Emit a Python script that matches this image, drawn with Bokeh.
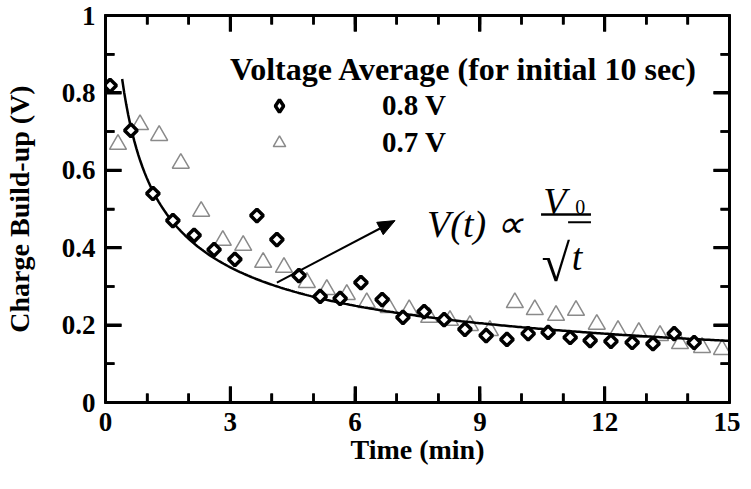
import numpy as np
from bokeh.plotting import figure
from bokeh.models import (FixedTicker, Range1d, Label, Legend, LegendItem, ColumnDataSource,
                          LinearAxis, CustomJSTickFormatter)
from bokeh.embed import file_html
from bokeh.resources import INLINE

# ---------------- data ----------------
t_08 = [0.11, 0.61, 1.14, 1.62, 2.13, 2.61, 3.11, 3.64, 4.12, 4.65, 5.16, 5.64, 6.14, 6.65,
        7.15, 7.66, 8.14, 8.64, 9.15, 9.65, 10.16, 10.64, 11.17, 11.65, 12.15, 12.66, 13.16,
        13.67, 14.15]
v_08 = [0.819, 0.703, 0.540, 0.470, 0.432, 0.395, 0.370, 0.483, 0.421, 0.328, 0.274, 0.269,
        0.310, 0.266, 0.220, 0.235, 0.214, 0.189, 0.173, 0.163, 0.178, 0.181, 0.168, 0.160,
        0.158, 0.155, 0.152, 0.178, 0.155]

t_07 = [0.30, 0.83, 1.29, 1.81, 2.30, 2.82, 3.31, 3.79, 4.29, 4.84, 5.32, 5.80, 6.28, 6.81,
        7.30, 7.78, 8.28, 8.76, 9.24, 9.84, 10.32, 10.83, 11.31, 11.81, 12.32, 12.82, 13.33,
        13.81, 14.34, 14.82]
v_07 = [0.667, 0.718, 0.690, 0.618, 0.494, 0.419, 0.406, 0.362, 0.349, 0.310, 0.292, 0.279,
        0.258, 0.245, 0.240, 0.220, 0.212, 0.199, 0.186, 0.258, 0.240, 0.225, 0.238, 0.202,
        0.186, 0.181, 0.173, 0.152, 0.142, 0.137]

# fitted curve V(t) = a / sqrt(t + c)
fit_a = 0.62
fit_c = 0.15
fit_t = np.linspace(0.40, 15.0, 300)
fit_v = fit_a / np.sqrt(fit_t + fit_c)

x_min, x_max = 0.0, 15.0
y_min, y_max = 0.0, 1.0
xtick_major = [0, 3, 6, 9, 12, 15]
xtick_minor = list(range(0, 16))
ytick_major = [0.0, 0.2, 0.4, 0.6, 0.8, 1.0]
ytick_labels = ["0", "0.2", "0.4", "0.6", "0.8", "1"]
ytick_minor = [0.1, 0.3, 0.5, 0.7, 0.9]

x_label = "Time (min)"
y_label = "Charge Build-up (V)"
legend_title = "Voltage Average (for initial 10 sec)"
series_labels = ["0.8 V", "0.7 V"]

arrow_start = (4.12, 0.31)
arrow_end = (6.96, 0.47)

FONT = "Liberation Serif"
FRAME_W, FRAME_H = 624, 387

# ---------------- figure ----------------
p = figure(frame_width=FRAME_W, frame_height=FRAME_H,
           x_range=Range1d(x_min, x_max), y_range=Range1d(y_min, y_max),
           output_backend="svg", toolbar_location=None,
           min_border_left=100, min_border_right=11, min_border_top=15, min_border_bottom=71,
           x_axis_label=x_label, y_axis_label=y_label)
p.grid.visible = False
p.outline_line_color = "black"
p.outline_line_width = 3

# data units per screen pixel
px_x = (x_max - x_min) / FRAME_W
px_y = (y_max - y_min) / FRAME_H

xticker = FixedTicker(ticks=[float(v) for v in xtick_major],
                      minor_ticks=[float(v) for v in xtick_minor])
yticker = FixedTicker(ticks=ytick_major, minor_ticks=ytick_minor)


def style_axis(ax):
    ax.axis_line_color = "black"
    ax.axis_line_width = 3
    ax.major_tick_in = 16
    ax.major_tick_out = 1
    ax.minor_tick_in = 9
    ax.minor_tick_out = 1
    ax.major_tick_line_color = "black"
    ax.minor_tick_line_color = "black"
    ax.major_tick_line_width = 3
    ax.minor_tick_line_width = 2.5
    ax.major_label_text_font = FONT
    ax.major_label_text_font_style = "bold"
    ax.major_label_text_font_size = "27px"
    ax.major_label_text_color = "black"
    ax.axis_label_text_font = FONT
    ax.axis_label_text_font_style = "bold"
    ax.axis_label_text_font_size = "28px"
    ax.axis_label_text_color = "black"


xa = p.xaxis[0]
xa.ticker = xticker
style_axis(xa)
xa.major_label_standoff = 9
xa.axis_label_standoff = 0

ya = p.yaxis[0]
ya.ticker = yticker
style_axis(ya)
ya.major_label_overrides = dict(zip(ytick_major, ytick_labels))
ya.major_label_standoff = 9
ya.axis_label_standoff = 24

for loc, tk in (("above", xticker), ("right", yticker)):
    ax = LinearAxis(ticker=tk, formatter=CustomJSTickFormatter(code="return ''"))
    style_axis(ax)
    ax.major_label_text_font_size = "0px"
    ax.major_label_standoff = 0
    p.add_layout(ax, loc)


# inward tick marks also drawn as glyph segments from the frame edge inwards
def tick_marks(ticks, vertical, length, width):
    tv = np.asarray(ticks, dtype=float)
    n = len(tv)
    lo = np.full(n, y_min if vertical else x_min)
    hi = np.full(n, y_max if vertical else x_max)
    d = length * (px_y if vertical else px_x)
    a0 = np.concatenate([tv, tv])
    b0 = np.concatenate([lo, hi])
    b1 = np.concatenate([lo + d, hi - d])
    if vertical:
        p.segment(a0, b0, a0, b1, line_color="black", line_width=width)
    else:
        p.segment(b0, a0, b1, a0, line_color="black", line_width=width)


tick_marks(xtick_minor, True, 9, 2.5)
tick_marks(xtick_major, True, 16, 3)
tick_marks(ytick_minor, False, 9, 2.5)
tick_marks(ytick_major, False, 16, 3)

# ---------------- glyphs ----------------
src07 = ColumnDataSource(dict(t=t_07, v=v_07))
src08 = ColumnDataSource(dict(t=t_08, v=v_08))

r07 = p.scatter("t", "v", source=src07, marker="triangle", size=17, line_color="#8a8a8a",
                line_width=1.5, fill_color=None)
p.line(fit_t, fit_v, line_color="black", line_width=2.5)
r08 = p.scatter("t", "v", source=src08, marker="square", angle=np.pi / 4, size=9,
                line_color="black", line_width=3.5, fill_color="white")
# legend swatch for the diamonds (legends draw markers unrotated); NaN -> not drawn in plot
r08_key = p.scatter([np.nan], [np.nan], marker="diamond", size=16, line_color="black",
                    line_width=3.5, fill_color="white")

# arrow (body + filled head) pointing from the curve to the formula
dxp = (arrow_end[0] - arrow_start[0]) / px_x
dyp = (arrow_end[1] - arrow_start[1]) / px_y
theta = np.arctan2(dyp, dxp)
ux, uy = np.cos(theta), np.sin(theta)
head_len, head_half = 17, 7
base_x = arrow_end[0] - head_len * ux * px_x
base_y = arrow_end[1] - head_len * uy * px_y
p.segment([arrow_start[0]], [arrow_start[1]], [base_x], [base_y],
          line_color="black", line_width=2)
p.patch([arrow_end[0], base_x - head_half * uy * px_x, base_x + head_half * uy * px_x],
        [arrow_end[1], base_y + head_half * ux * px_y, base_y - head_half * ux * px_y],
        fill_color="black", line_color="black", line_width=1)

# ---------------- legend ----------------
legend = Legend(items=[LegendItem(label=series_labels[0], renderers=[r08_key]),
                       LegendItem(label=series_labels[1], renderers=[r07])],
                title=legend_title, location=(125, 243), orientation="vertical")
legend.title_text_font = FONT
legend.title_text_font_style = "bold"
legend.title_text_font_size = "32px"
legend.title_text_color = "black"
legend.title_standoff = 1
legend.label_text_font = FONT
legend.label_text_font_style = "bold"
legend.label_text_font_size = "29px"
legend.label_text_color = "black"
legend.glyph_width = 98
legend.glyph_height = 31
legend.label_height = 31
legend.label_standoff = 54
legend.spacing = 4
legend.padding = 0
legend.margin = 0
legend.border_line_color = None
legend.background_fill_alpha = 0
p.add_layout(legend)

# ---------------- equation  V(t) ∝ V0 / sqrt(t) ----------------
def eq_label(x, y, text, size, style="italic"):
    p.add_layout(Label(x=x, y=y, text=text, text_font=FONT, text_font_style=style,
                       text_font_size=size, text_color="black",
                       text_baseline="alphabetic", text_align="left"))

eq_label(7.73, 0.460, "V(t) \u221d", "38px")
eq_label(10.52, 0.520, "V", "38px")
eq_label(11.29, 0.505, "0", "20px", "normal")
eq_label(10.48, 0.360, "\u221a", "52px", "normal")
eq_label(11.21, 0.375, "t", "38px")
# fraction bar and radical overline
p.segment([10.47, 11.12], [0.486, 0.466], [11.67, 11.67], [0.486, 0.466],
          line_color="black", line_width=[2.5, 2])

open("out.html", "w").write(file_html(p, INLINE))
